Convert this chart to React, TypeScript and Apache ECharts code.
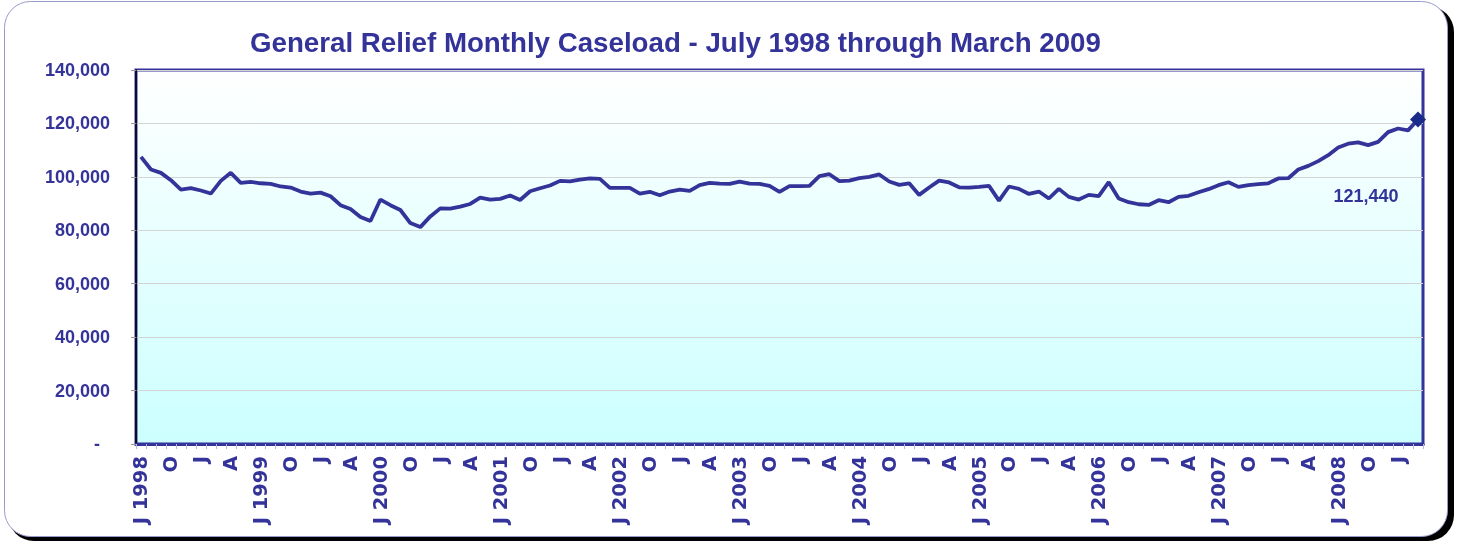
import React, { useEffect, useRef } from "react";
import * as echarts from "echarts";

const TITLE = "General Relief Monthly Caseload - July 1998 through March 2009";
const MONTH_INITIALS = ["J", "F", "M", "A", "M", "J", "J", "A", "S", "O", "N", "D"];
const START_YEAR = 1998;
const START_MONTH = 6; // July (0-based)
const Y_TICKS = [0, 20000, 40000, 60000, 80000, 100000, 120000, 140000];
const LAST_LABEL = "121,440";

const caseload = [
  107500, 102750, 101500, 98750, 95250, 95750, 94900, 93750, 98500, 101500, 97750, 98100,
  97600, 97400, 96400, 96000, 94500, 93750, 94100, 92750, 89400, 88000, 85000, 83500,
  91500, 89400, 87600, 82700, 81200, 85200, 88200, 88100, 88850, 89850, 92250, 91500,
  91750, 93000, 91350, 94600, 95750, 96750, 98500, 98300, 99000, 99400, 99250, 95900,
  95900, 95900, 93750, 94400, 93100, 94500, 95250, 94750, 96900, 97750, 97500, 97400,
  98250, 97500, 97400, 96600, 94400, 96500, 96500, 96600, 100250, 101000, 98400, 98600,
  99500, 100000, 100900, 98250, 97000, 97600, 93250, 96000, 98600, 97900, 96100, 96000,
  96250, 96600, 91100, 96400, 95500, 93600, 94500, 91900, 95500, 92500, 91500, 93250,
  92750, 98000, 91900, 90500, 89750, 89500, 91250, 90500, 92500, 92900, 94250, 95400,
  96900, 98000, 96250, 96900, 97250, 97600, 99400, 99500, 102750, 104100, 105900, 108100,
  111000, 112400, 112900, 111900, 113100, 116750, 118100, 117400, 121440,
];

const categories = caseload.map((_, i) => {
  const m = (START_MONTH + i) % 12;
  const y = START_YEAR + Math.floor((START_MONTH + i) / 12);
  return m === 6 ? `J ${y}` : MONTH_INITIALS[m];
});

const FONT = "Liberation Sans, Arial, sans-serif";
const WIDE_FONT = "DejaVu Sans, Liberation Sans, sans-serif";
const BLUE = "#333399";

export default function App() {
  const ref = useRef<HTMLDivElement>(null);
  useEffect(() => {
    if (!ref.current) return;
    const chart = echarts.init(ref.current, undefined, { renderer: "svg" });
    const lastIdx = caseload.length - 1;
    const seriesData = caseload.map((v, i) =>
      i === lastIdx
        ? {
            value: v,
            symbol: "diamond",
            symbolSize: 16,
            itemStyle: { color: "#1a2a8a" },
            label: {
              show: true,
              formatter: LAST_LABEL,
              position: "inside",
              offset: [-52, 76],
              color: BLUE,
              fontSize: 18,
              fontWeight: "bold",
              fontFamily: FONT,
            },
          }
        : v
    );
    chart.setOption({
      animation: false,
      graphic: [
        {
          type: "rect",
          z: -10,
          silent: true,
          shape: { x: 8, y: 6, width: 1446, height: 535, r: 26 },
          style: { fill: "#000000" },
        },
        {
          type: "rect",
          z: -9,
          silent: true,
          shape: { x: 4.5, y: 1.5, width: 1443, height: 535, r: 26 },
          style: { fill: "#ffffff", stroke: "#9999cc", lineWidth: 1 },
        },
      ],
      title: {
        text: TITLE,
        left: 245,
        top: 23,
        textStyle: {
          color: BLUE,
          fontSize: 27.7,
          fontWeight: "bold",
          fontFamily: FONT,
        },
      },
      grid: {
        left: 136,
        top: 70,
        right: 37,
        bottom: 100,
        show: true,
        borderColor: BLUE,
        borderWidth: 3,
        backgroundColor: new echarts.graphic.LinearGradient(0, 0, 0, 1, [
          { offset: 0, color: "#ffffff" },
          { offset: 1, color: "#ccffff" },
        ]),
      },
      xAxis: {
        type: "category",
        data: categories,
        boundaryGap: true,
        axisLine: { show: true, lineStyle: { color: BLUE, width: 3 } },
        axisTick: {
          show: true,
          interval: 0,
          length: 5,
          lineStyle: { color: "#b8b8dd", width: 1 },
        },
        axisLabel: {
          interval: 2,
          rotate: 90,
          margin: 12,
          color: BLUE,
          fontSize: 19.5,
          fontWeight: "bold",
          fontFamily: WIDE_FONT,
        },
        splitLine: { show: false },
      },
      yAxis: {
        type: "value",
        min: Y_TICKS[0],
        max: Y_TICKS[Y_TICKS.length - 1],
        interval: Y_TICKS[1] - Y_TICKS[0],
        axisLine: { show: true, lineStyle: { color: "#000000", width: 1.5 } },
        axisTick: { show: true, length: 5, lineStyle: { color: "#999999" } },
        splitLine: { show: true, lineStyle: { color: "#d4d4d4", width: 1 } },
        axisLabel: {
          margin: 26,
          color: BLUE,
          fontSize: 18,
          fontWeight: "bold",
          fontFamily: FONT,
          formatter: (v: number) =>
            v === 0 ? "{d|-}" : v.toLocaleString("en-US"),
          rich: {
            d: {
              color: BLUE,
              fontSize: 18,
              fontWeight: "bold",
              fontFamily: FONT,
              padding: [0, 10, 0, 0],
            },
          },
        },
      },
      series: [
        {
          type: "line",
          data: seriesData,
          showSymbol: true,
          symbol: "none",
          lineStyle: { color: BLUE, width: 3.8 },
          itemStyle: { color: BLUE },
          z: 3,
        },
      ],
    });
    return () => chart.dispose();
  }, []);
  return (
    <div
      ref={ref}
      style={{ position: "fixed", left: 0, top: 0, width: 1460, height: 544 }}
    />
  );
}
